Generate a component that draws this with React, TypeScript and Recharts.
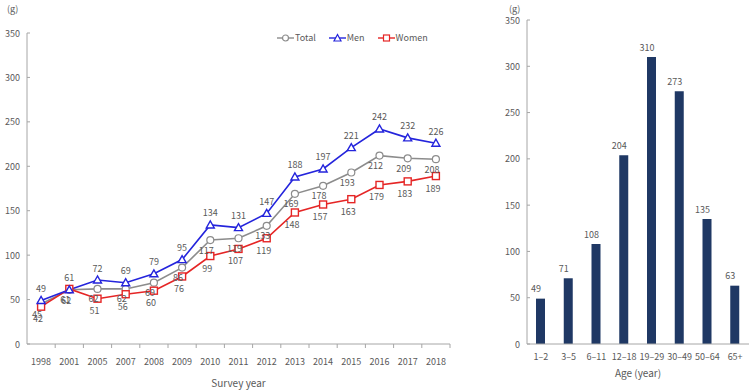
import React from 'react';
import {
    LineChart, Line, XAxis, YAxis, Legend, LabelList, BarChart, Bar,
} from 'recharts';

// survey years and intake (g) by sex
const years = ['1998', '2001', '2005', '2007', '2008', '2009', '2010', '2011', '2012', '2013', '2014', '2015', '2016', '2017', '2018'];
const total = [45, 61, 62, 62, 69, 86, 117, 119, 133, 169, 178, 193, 212, 209, 208];
const men = [49, 61, 72, 69, 79, 95, 134, 131, 147, 188, 197, 221, 242, 232, 226];
const women = [42, 62, 51, 56, 60, 76, 99, 107, 119, 148, 157, 163, 179, 183, 189];

// intake (g) by age group
const ageGroups = ['1\u20132', '3\u20135', '6\u201311', '12\u201318', '19\u201329', '30\u201349', '50\u201364', '65+'];
const ageIntake = [49, 71, 108, 204, 310, 273, 135, 63];

const yTicks = [0, 50, 100, 150, 200, 250, 300, 350];

const FONT = '"Noto Sans CJK KR", "Noto Sans", sans-serif';
const FS = 9;
const TXT = '#595959';
const AXIS = '#a6a6a6';
const C_TOTAL = '#8c8c8c';
const C_MEN = '#2424dc';
const C_WOMEN = '#e52525';
const C_BAR = '#1f3864';

const lineData = years.map((y, i) => ({ year: y, total: total[i], men: men[i], women: women[i] }));
const barData = ageGroups.map((a, i) => ({ age: a, val: ageIntake[i] }));

const LEFT_W = 470;
const LEFT_PLOT_W = 423;
const BAND = LEFT_PLOT_W / years.length;

const YTick = (props: any) => {
    const { x, y, payload } = props;
    return (
        <g>
            <line x1={x} x2={x + 3} y1={y} y2={y} stroke={AXIS} />
            <text x={x - 7} y={y} textAnchor="end" dominantBaseline="central" fontSize={FS} fill={TXT} fontFamily={FONT}>
                {payload.value}
            </text>
        </g>
    );
};

const XTickYears = (props: any) => {
    const { x, y, payload, index } = props;
    return (
        <g>
            {index > 0 && <line x1={x - BAND / 2} x2={x - BAND / 2} y1={y} y2={y + 4} stroke={AXIS} />}
            {index === years.length - 1 && <line x1={x + BAND / 2} x2={x + BAND / 2} y1={y} y2={y + 4} stroke={AXIS} />}
            <text x={x} y={y + 17} textAnchor="middle" dominantBaseline="central" fontSize={FS} fill={TXT} fontFamily={FONT}>
                {payload.value}
            </text>
        </g>
    );
};

const XTickAge = (props: any) => {
    const { x, y, payload } = props;
    return (
        <text x={x} y={y + 12} textAnchor="middle" dominantBaseline="central" fontSize={FS} fill={TXT} fontFamily={FONT}>
            {payload.value}
        </text>
    );
};

const makeLabel = (dx: number, dy: number) => (props: any) => {
    const { x, y, value } = props;
    return (
        <text x={x + dx} y={y + dy} textAnchor="middle" dominantBaseline="central" fontSize={FS} fill={TXT} fontFamily={FONT}>
            {value}
        </text>
    );
};

const CircleDot = (props: any) => {
    const { cx, cy } = props;
    return <circle cx={cx} cy={cy} r={3.5} fill="#fff" stroke={C_TOTAL} strokeWidth={1.2} />;
};

const TriDot = (props: any) => {
    const { cx, cy } = props;
    const s = 4;
    return (
        <polygon
            points={`${cx},${cy - s} ${cx - s},${cy + s * 0.75} ${cx + s},${cy + s * 0.75}`}
            fill="#fff" stroke={C_MEN} strokeWidth={1.4}
        />
    );
};

const SquareDot = (props: any) => {
    const { cx, cy } = props;
    return <rect x={cx - 3.5} y={cy - 3.5} width={7} height={7} fill="#fff" stroke={C_WOMEN} strokeWidth={1.4} />;
};

const legendItems = [
    { name: 'Total', color: C_TOTAL, shape: 'circle' },
    { name: 'Men', color: C_MEN, shape: 'tri' },
    { name: 'Women', color: C_WOMEN, shape: 'square' },
];

const LegendBox = () => (
    <div style={{ display: 'flex', gap: 13, fontFamily: FONT, fontSize: FS, color: TXT }}>
        {legendItems.map(it => (
            <div key={it.name} style={{ display: 'flex', alignItems: 'center' }}>
                <svg width={17} height={10}>
                    <line x1={0} x2={17} y1={5} y2={5} stroke={it.color} strokeWidth={1.4} />
                    {it.shape === 'circle' && <circle cx={8.5} cy={5} r={3} fill="#fff" stroke={it.color} strokeWidth={1.2} />}
                    {it.shape === 'tri' && <polygon points="8.5,1.5 5,8 12,8" fill="#fff" stroke={it.color} strokeWidth={1.2} />}
                    {it.shape === 'square' && <rect x={5.5} y={2} width={6} height={6} fill="#fff" stroke={it.color} strokeWidth={1.2} />}
                </svg>
                <span style={{ marginLeft: 1 }}>{it.name}</span>
            </div>
        ))}
    </div>
);

export default function App() {
    return (
        <div style={{ position: 'absolute', left: 0, top: 0, width: 749, height: 392, background: '#fff', fontFamily: FONT }}>
            <div style={{ position: 'absolute', left: 0, top: 0 }}>
                <LineChart width={LEFT_W} height={392} data={lineData} margin={{ top: 20, right: LEFT_W - 27 - LEFT_PLOT_W, bottom: 0, left: 0 }}>
                    <XAxis
                        dataKey="year" height={48} stroke={AXIS} tickLine={false} tickSize={0} tickMargin={0}
                        tick={<XTickYears />} interval={0} padding={{ left: BAND / 2, right: BAND / 2 }}
                        label={{ value: 'Survey year', position: 'insideBottom', offset: 5, fill: TXT, fontSize: 10, fontFamily: FONT }}
                    />
                    <YAxis
                        width={27} domain={[0, 350]} ticks={yTicks} stroke={AXIS} tickLine={false}
                        tickSize={0} tickMargin={0} tick={<YTick />} interval={0}
                    />
                    <Legend verticalAlign="top" content={<LegendBox />} wrapperStyle={{ position: 'absolute', left: 277, top: 31, width: 'auto' }} />
                    <Line dataKey="total" name="Total" stroke={C_TOTAL} strokeWidth={1.6} dot={<CircleDot />} activeDot={false} isAnimationActive={false}>
                        <LabelList dataKey="total" content={makeLabel(-4, 10)} />
                    </Line>
                    <Line dataKey="women" name="Women" stroke={C_WOMEN} strokeWidth={1.6} dot={<SquareDot />} activeDot={false} isAnimationActive={false}>
                        <LabelList dataKey="women" content={makeLabel(-3, 12)} />
                    </Line>
                    <Line dataKey="men" name="Men" stroke={C_MEN} strokeWidth={1.6} dot={<TriDot />} activeDot={false} isAnimationActive={false}>
                        <LabelList dataKey="men" content={makeLabel(0, -12)} />
                    </Line>
                </LineChart>
                <div style={{ position: 'absolute', left: 7, top: 2, fontSize: FS, color: TXT }}>(g)</div>
            </div>

            <div style={{ position: 'absolute', left: 470, top: 0 }}>
                <BarChart width={279} height={392} data={barData} margin={{ top: 20, right: 0, bottom: 0, left: 0 }}>
                    <XAxis
                        dataKey="age" height={48} stroke={AXIS} tickLine={false} tickSize={0} tickMargin={0}
                        tick={<XTickAge />} interval={0}
                        label={{ value: 'Age (year)', position: 'insideBottom', offset: 15, fill: TXT, fontSize: 10, fontFamily: FONT }}
                    />
                    <YAxis
                        width={57} domain={[0, 350]} ticks={yTicks} stroke={AXIS} tickLine={false}
                        tickSize={0} tickMargin={0} tick={<YTick />} interval={0}
                    />
                    <Bar dataKey="val" fill={C_BAR} barSize={9} isAnimationActive={false}>
                        <LabelList dataKey="val" content={makeLabel(0, -10)} />
                    </Bar>
                </BarChart>
                <div style={{ position: 'absolute', left: 39, top: 2, fontSize: FS, color: TXT }}>(g)</div>
            </div>
        </div>
    );
}
